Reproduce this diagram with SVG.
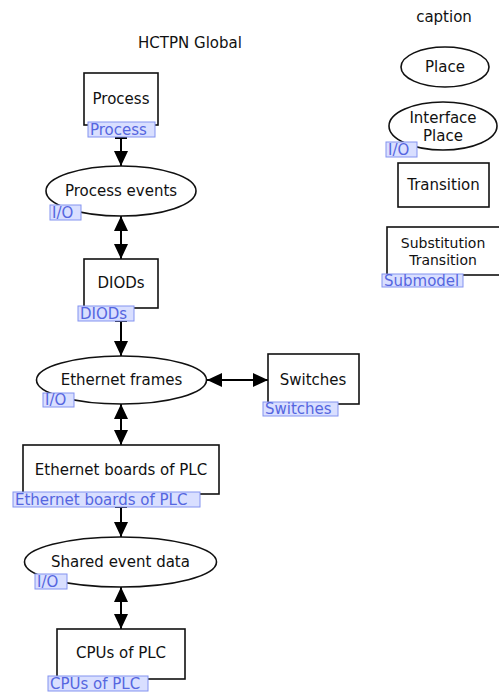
<svg xmlns="http://www.w3.org/2000/svg" width="499" height="693" viewBox="0 0 499 693">
<defs>
<marker id="ah" markerUnits="userSpaceOnUse" markerWidth="16" markerHeight="14" viewBox="0 0 16 14" refX="15" refY="7" orient="auto-start-reverse">
<path d="M0,0 L15,7 L0,14 z" fill="#000"/>
</marker>
<style>
.t{font-family:"DejaVu Sans",Verdana,sans-serif;font-size:15px;fill:#111;text-anchor:middle}
.s{font-size:14px}
.n{fill:#fff;stroke:#111;stroke-width:1.6}
.tag{fill:#d9dfff;stroke:#8393f0;stroke-width:1}
.tt{font-family:"DejaVu Sans",Verdana,sans-serif;font-size:15px;fill:#5566e0}
.c{stroke:#000;stroke-width:2;fill:none}
</style>
</defs>
<rect width="499" height="693" fill="#fff"/>
<text class="t" x="190" y="48">HCTPN Global</text>
<text class="t" x="444" y="22">caption</text>

<g id="connectors">
<line class="c" x1="121" y1="138" x2="121" y2="166" marker-end="url(#ah)"/>
<line x1="115" y1="138" x2="127" y2="138" stroke="#000" stroke-width="2"/>
<line class="c" x1="121" y1="216" x2="121" y2="259" marker-start="url(#ah)" marker-end="url(#ah)"/>
<line class="c" x1="121" y1="321" x2="121" y2="356" marker-end="url(#ah)"/>
<line x1="115" y1="321" x2="127" y2="321" stroke="#000" stroke-width="2"/>
<line class="c" x1="207" y1="380" x2="268" y2="380" marker-start="url(#ah)" marker-end="url(#ah)"/>
<line class="c" x1="121" y1="404" x2="121" y2="445" marker-start="url(#ah)" marker-end="url(#ah)"/>
<line class="c" x1="121" y1="507" x2="121" y2="537" marker-end="url(#ah)"/>
<line x1="115" y1="507" x2="127" y2="507" stroke="#000" stroke-width="2"/>
<line class="c" x1="121" y1="587" x2="121" y2="629" marker-start="url(#ah)" marker-end="url(#ah)"/>
</g>

<g id="process">
<rect class="n" x="84" y="73" width="74" height="52"/>
<text class="t" x="121" y="104">Process</text>
<rect class="tag" x="88" y="122" width="67" height="15"/>
<text class="tt" x="90" y="135">Process</text>
</g>

<g id="process-events">
<ellipse class="n" cx="121" cy="191" rx="75" ry="25"/>
<text class="t" x="121" y="196">Process events</text>
<rect class="tag" x="50" y="205" width="31" height="15"/>
<text class="tt" x="52" y="218">I/O</text>
</g>

<g id="diods">
<rect class="n" x="84" y="259" width="74" height="49"/>
<text class="t" x="121" y="288">DIODs</text>
<rect class="tag" x="78" y="306" width="56" height="15"/>
<text class="tt" x="80" y="319">DIODs</text>
</g>

<g id="ethernet-frames">
<ellipse class="n" cx="121.5" cy="380" rx="85" ry="24"/>
<text class="t" x="121.5" y="385">Ethernet frames</text>
<rect class="tag" x="43" y="393" width="31" height="14"/>
<text class="tt" x="45" y="405">I/O</text>
</g>

<g id="switches">
<rect class="n" x="268" y="354" width="91" height="50"/>
<text class="t" x="313" y="385">Switches</text>
<rect class="tag" x="263" y="402" width="75" height="14"/>
<text class="tt" x="265" y="414">Switches</text>
</g>

<g id="ethernet-boards">
<rect class="n" x="23" y="445" width="196" height="49"/>
<text class="t" x="121" y="475">Ethernet boards of PLC</text>
<rect class="tag" x="13" y="492" width="187" height="15"/>
<text class="tt" x="15" y="505">Ethernet boards of PLC</text>
</g>

<g id="shared-event-data">
<ellipse class="n" cx="120.5" cy="562" rx="96" ry="25"/>
<text class="t" x="120.5" y="567">Shared event data</text>
<rect class="tag" x="35" y="574" width="32" height="15"/>
<text class="tt" x="37" y="587">I/O</text>
</g>

<g id="cpus">
<rect class="n" x="57" y="629" width="128" height="50"/>
<text class="t" x="121" y="658">CPUs of PLC</text>
<rect class="tag" x="48" y="676" width="100" height="15"/>
<text class="tt" x="50" y="689">CPUs of PLC</text>
</g>

<g id="caption-place">
<ellipse class="n" cx="445" cy="67" rx="44" ry="20"/>
<text class="t" x="445" y="72">Place</text>
</g>

<g id="caption-interface-place">
<ellipse class="n" cx="443" cy="126" rx="54" ry="24"/>
<text class="t" x="443" y="123">Interface</text>
<text class="t" x="443" y="141">Place</text>
<rect class="tag" x="386" y="142" width="31" height="15"/>
<text class="tt" x="388" y="155">I/O</text>
</g>

<g id="caption-transition">
<rect class="n" x="398" y="163" width="91" height="44"/>
<text class="t" x="443.5" y="190">Transition</text>
</g>

<g id="caption-substitution">
<rect class="n" x="387" y="227" width="114" height="48"/>
<text class="t s" x="443" y="248">Substitution</text>
<text class="t s" x="443" y="265">Transition</text>
<rect class="tag" x="382" y="274" width="81" height="13"/>
<text class="tt" x="384" y="286">Submodel</text>
</g>
</svg>
